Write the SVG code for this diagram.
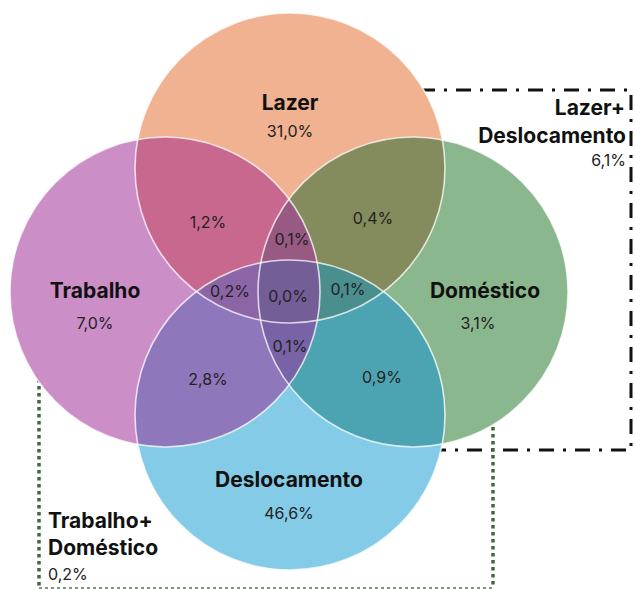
<svg xmlns="http://www.w3.org/2000/svg" width="635" height="590" viewBox="0 0 635 590">
  <style>
    .title { font-family: Inter, "Liberation Sans", sans-serif; font-weight: 700; font-size: 21px; fill: #111; }
    .pct { font-family: Inter, "Liberation Sans", sans-serif; font-weight: 400; font-size: 16px; fill: #222; }
    .frame { fill: none; stroke: #111; stroke-width: 3; stroke-dasharray: 15 9 3 9; }
    .dots { fill: none; stroke: #3d6b3d; stroke-width: 3.5; stroke-dasharray: 3.5 3.5; }
    .rim { fill: none; stroke: #fff; stroke-width: 1.6; stroke-opacity: 0.75; }
  </style>
  <defs>
    <clipPath id="cL"><circle cx="290" cy="168" r="155"/></clipPath>
    <clipPath id="cT"><circle cx="165" cy="292" r="155"/></clipPath>
    <clipPath id="cD"><circle cx="413" cy="292" r="155"/></clipPath>
    <clipPath id="cS"><circle cx="290" cy="415" r="155"/></clipPath>
  </defs>

  <rect width="635" height="590" fill="#fff"/>

  <!-- connectors: grouping frames behind the circles -->
  <g id="connectors">
    <g id="frame-lazer-deslocamento">
      <polyline class="frame" points="420,90 631,90 631,450 436,450"/>
      <text class="title" x="625" y="115" text-anchor="end">Lazer+</text>
      <text class="title" x="626" y="143" text-anchor="end">Deslocamento</text>
      <text class="pct" x="626" y="166" text-anchor="end">6,1%</text>
    </g>
    <g id="frame-trabalho-domestico">
      <polyline class="dots" points="39,372 39,588"/>
      <polyline class="dots" points="493,420 493,588"/>
      <line x1="39" y1="588" x2="493" y2="588" stroke="#7d977a" stroke-width="2" stroke-dasharray="3 3"/>
      <text class="title" x="48" y="528">Trabalho+</text>
      <text class="title" x="48" y="555">Doméstico</text>
      <text class="pct" x="48" y="580">0,2%</text>
    </g>
  </g>

  <!-- base circles -->
  <g id="node-lazer"><circle cx="290" cy="168" r="155" fill="#f0b290"/></g>
  <g id="node-trabalho"><circle cx="165" cy="292" r="155" fill="#cc8ec7"/></g>
  <g id="node-domestico"><circle cx="413" cy="292" r="155" fill="#8ab78d"/></g>
  <g id="node-deslocamento"><circle cx="290" cy="415" r="155" fill="#84cbe8"/></g>

  <!-- pairwise overlaps -->
  <g id="overlaps">
    <g clip-path="url(#cL)"><circle cx="165" cy="292" r="155" fill="#c8688f"/></g>
    <g clip-path="url(#cL)"><circle cx="413" cy="292" r="155" fill="#848b5c"/></g>
    <g clip-path="url(#cS)"><circle cx="165" cy="292" r="155" fill="#8e77ba"/></g>
    <g clip-path="url(#cS)"><circle cx="413" cy="292" r="155" fill="#4ca4b2"/></g>
    <!-- triple overlaps -->
    <g clip-path="url(#cL)"><g clip-path="url(#cT)"><circle cx="413" cy="292" r="155" fill="#985a82"/></g></g>
    <g clip-path="url(#cL)"><g clip-path="url(#cT)"><circle cx="290" cy="415" r="155" fill="#8c65a6"/></g></g>
    <g clip-path="url(#cL)"><g clip-path="url(#cD)"><circle cx="290" cy="415" r="155" fill="#4a8f8d"/></g></g>
    <g clip-path="url(#cT)"><g clip-path="url(#cD)"><circle cx="290" cy="415" r="155" fill="#7863a7"/></g></g>
    <!-- all four -->
    <g clip-path="url(#cL)"><g clip-path="url(#cT)"><g clip-path="url(#cD)"><circle cx="290" cy="415" r="155" fill="#745e97"/></g></g></g>
    <!-- white rims -->
    <circle class="rim" cx="290" cy="168" r="155"/>
    <circle class="rim" cx="165" cy="292" r="155"/>
    <circle class="rim" cx="413" cy="292" r="155"/>
    <circle class="rim" cx="290" cy="415" r="155"/>
  </g>

  <!-- labels -->
  <g id="labels">
    <text class="title" x="290" y="110" text-anchor="middle">Lazer</text>
    <text class="pct" x="290" y="137" text-anchor="middle">31,0%</text>
    <text class="title" x="95" y="298" text-anchor="middle">Trabalho</text>
    <text class="pct" x="95" y="329" text-anchor="middle">7,0%</text>
    <text class="title" x="485" y="298" text-anchor="middle">Doméstico</text>
    <text class="pct" x="478" y="329" text-anchor="middle">3,1%</text>
    <text class="title" x="289" y="487" text-anchor="middle">Deslocamento</text>
    <text class="pct" x="289" y="519" text-anchor="middle">46,6%</text>

    <text class="pct" x="208" y="228" text-anchor="middle">1,2%</text>
    <text class="pct" x="373" y="224" text-anchor="middle">0,4%</text>
    <text class="pct" x="292" y="245" text-anchor="middle">0,1%</text>
    <text class="pct" x="230" y="297" text-anchor="middle">0,2%</text>
    <text class="pct" x="288" y="302" text-anchor="middle">0,0%</text>
    <text class="pct" x="348" y="295" text-anchor="middle">0,1%</text>
    <text class="pct" x="290" y="352" text-anchor="middle">0,1%</text>
    <text class="pct" x="208" y="385" text-anchor="middle">2,8%</text>
    <text class="pct" x="382" y="383" text-anchor="middle">0,9%</text>
  </g>
</svg>
